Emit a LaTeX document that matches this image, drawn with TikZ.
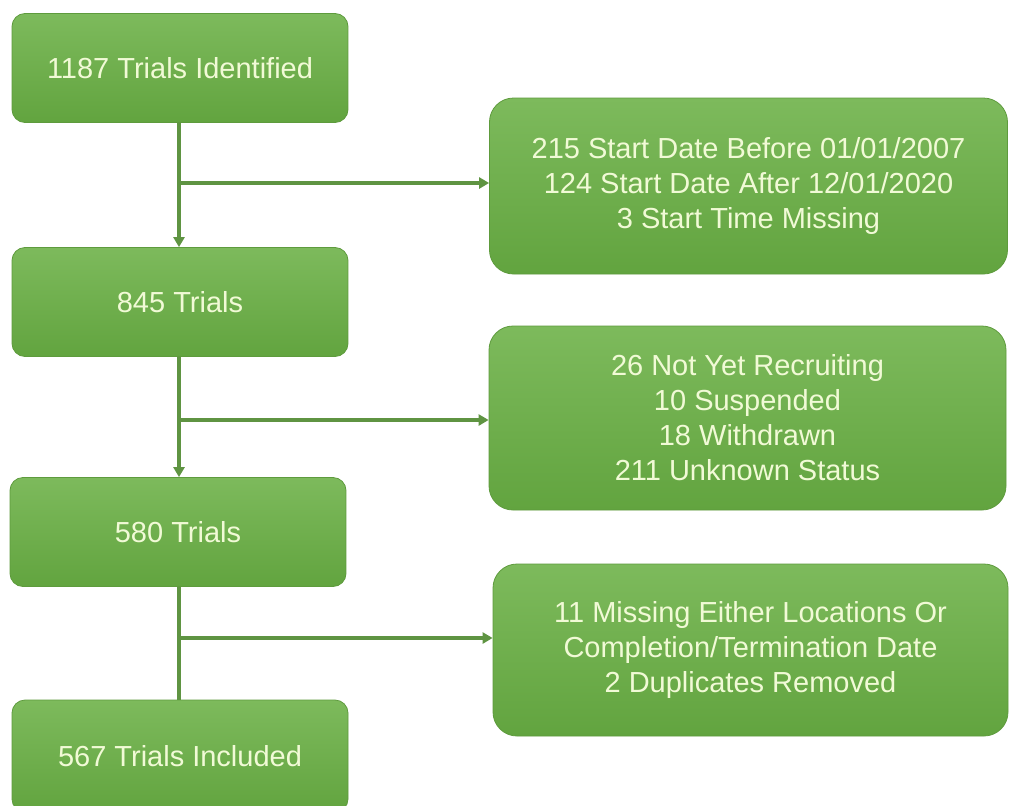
\documentclass[tikz,border=0pt]{standalone}
\usepackage{fontspec}
\setmainfont{Liberation Sans}
\usetikzlibrary{arrows.meta,positioning}
\definecolor{boxtop}{HTML}{7DBA5C}
\definecolor{boxbot}{HTML}{62A43F}
\definecolor{boxedge}{HTML}{5E9B3D}
\definecolor{txt}{HTML}{F1FAD6}
\definecolor{conn}{HTML}{5F9442}
\tikzset{
  flowbox/.style={rectangle, rounded corners=13pt, draw=boxedge, line width=0.8pt,
    top color=boxtop, bottom color=boxbot, text=txt, align=center,
    font=\fontsize{29}{35}\selectfont, inner sep=0pt},
  leftbox/.style={flowbox, minimum width=336pt, minimum height=109pt},
  rightbox/.style={flowbox, rounded corners=24pt, minimum width=518pt},
  conline/.style={draw=conn, line width=3.2pt},
  conarrow/.style={conline, -{Triangle[length=10pt,width=11pt]}}
}
\begin{document}
\begin{tikzpicture}[x=1pt,y=-1pt]
\useasboundingbox (0,0) rectangle (1010,806);
\clip (0,0) rectangle (1010,806);
\fill[white] (0,0) rectangle (1010,806);
\coordinate (j1) at (179,183);
\coordinate (j2) at (179,420);
\coordinate (j3) at (179,638);
\node[leftbox] (b1) at (180,68) {1187 Trials Identified};
\node[leftbox] (b2) at (180,302) {845 Trials};
\node[leftbox] (b3) at (178,532) {580 Trials};
\node[leftbox, minimum height=112pt] (b4) at (180,756) {567 Trials Included};
\node[rightbox, minimum height=176pt] (r1) at (748.5,186) {215 Start Date Before 01/01/2007\\124 Start Date After 12/01/2020\\3 Start Time Missing};
\node[rightbox, minimum height=184pt, minimum width=517pt] (r2) at (747.5,418) {26 Not Yet Recruiting\\10 Suspended\\18 Withdrawn\\211 Unknown Status};
\node[rightbox, minimum height=172pt, minimum width=515pt] (r3) at (750.5,650) {11 Missing Either Locations Or\\Completion/Termination Date\\2 Duplicates Removed};
\draw[conarrow] (b1.south -| j1) -- (b2.north -| j1);
\draw[conarrow] (j1) -- (j1 -| r1.west);
\draw[conarrow] (b2.south -| j2) -- (b3.north -| j2);
\draw[conarrow] (j2) -- (j2 -| r2.west);
\draw[conline] (b3.south -| j3) -- (b4.north -| j3);
\draw[conarrow] (j3) -- (j3 -| r3.west);
\end{tikzpicture}
\end{document}
